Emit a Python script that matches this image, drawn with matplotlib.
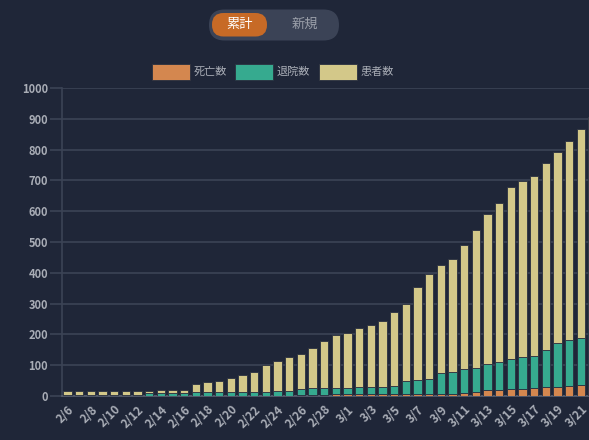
import matplotlib
matplotlib.use('Agg')
import matplotlib.pyplot as plt
from matplotlib.patches import Rectangle, FancyBboxPatch
import numpy as np

plt.rcParams['font.family'] = ['Noto Sans CJK JP', 'DejaVu Sans']

########################### données ##############################
dates = ['2/6', '2/7', '2/8', '2/9', '2/10', '2/11', '2/12', '2/13', '2/14', '2/15',
         '2/16', '2/17', '2/18', '2/19', '2/20', '2/21', '2/22', '2/23', '2/24', '2/25',
         '2/26', '2/27', '2/28', '2/29', '3/1', '3/2', '3/3', '3/4', '3/5', '3/6',
         '3/7', '3/8', '3/9', '3/10', '3/11', '3/12', '3/13', '3/14', '3/15', '3/16',
         '3/17', '3/18', '3/19', '3/20', '3/21', '3/22']

# 死亡数
deaths = [0, 0, 0, 0, 0, 0, 0, 1, 1, 1,
          1, 1, 1, 1, 1, 1, 1, 1, 1, 1,
          2, 3, 4, 5, 5, 6, 6, 6, 6, 6,
          6, 6, 7, 8, 11, 14, 18, 21, 22, 24,
          27, 29, 30, 31, 35, 36]
# 退院数
recovered = [3, 3, 3, 4, 4, 4, 4, 8, 8, 8,
             8, 11, 11, 12, 12, 12, 13, 13, 14, 14,
             20, 23, 22, 22, 22, 22, 24, 24, 25, 43,
             46, 50, 69, 69, 77, 78, 85, 88, 99, 103,
             104, 119, 143, 152, 154, 186]
# 患者数
patients = [13, 13, 13, 12, 12, 12, 12, 8, 12, 12,
            12, 26, 32, 37, 47, 55, 65, 87, 98, 112,
            114, 130, 151, 170, 177, 192, 199, 213, 243, 251,
            301, 339, 349, 367, 402, 448, 487, 518, 558, 572,
            584, 607, 619, 644, 679, 683]

legend_labels = ['死亡数', '退院数', '患者数']
toggle_labels = ['累計', '新規']

########################### couleurs ##############################
bg = '#1f2638'
c_death = '#d4874f'
c_recov = '#36aa8f'
c_pat = '#d3c889'
grid_c = '#3b4456'
txt_c = '#a9adb6'

W, H = 589, 440
fig = plt.figure(figsize=(W / 100, H / 100), dpi=100)
fig.patch.set_facecolor(bg)

# axe : 1 jour = 11.67 px, la barre du 3/22 est coupée par le bord droit
px = 11.67
x0 = -0.47
x1 = 46.0
ax_left = 62
ax_w = (x1 - x0) * px
ax = fig.add_axes([ax_left / W, 1 - 396 / H, ax_w / W, (396 - 88) / H])
ax.set_facecolor(bg)

x = np.arange(len(dates))
deaths = np.array(deaths)
recovered = np.array(recovered)
patients = np.array(patients)
bw = 0.72
edge = '#2a3040'
ax.bar(x, deaths, width=bw, color=c_death, edgecolor=edge, linewidth=0.6, zorder=3)
ax.bar(x, recovered, width=bw, bottom=deaths, color=c_recov, edgecolor=edge, linewidth=0.6, zorder=3)
ax.bar(x, patients, width=bw, bottom=deaths + recovered, color=c_pat, edgecolor=edge, linewidth=0.6, zorder=3)

ax.set_xlim(x0, x1)
ax.set_ylim(0, 1000)
ax.set_yticks(range(0, 1001, 100))
ax.yaxis.grid(True, color=grid_c, linewidth=1.2, zorder=0)
ax.tick_params(axis='y', colors=grid_c, labelcolor=txt_c, length=9, width=1.2, labelsize=8, pad=1)
for lab in ax.get_yticklabels():
    lab.set_fontweight('bold')

ax.set_xticks(x[::2])
ax.set_xticklabels(dates[::2], rotation=45, ha='right', rotation_mode='anchor',
                   fontsize=8.5, color=txt_c, fontweight='bold')
ax.tick_params(axis='x', length=0, pad=5)

for s in ['top', 'right']:
    ax.spines[s].set_visible(False)
ax.spines['left'].set_color(grid_c)
ax.spines['left'].set_linewidth(1.2)
ax.spines['bottom'].set_color('#5a6272')
ax.spines['bottom'].set_linewidth(1.2)

########################### calque en pixels pour légende et bouton ##############################
ov = fig.add_axes([0, 0, 1, 1], facecolor='none')
ov.set_xlim(0, W)
ov.set_ylim(H, 0)
ov.axis('off')

leg_x = [152, 235, 319]
for lx, col, lab in zip(leg_x, [c_death, c_recov, c_pat], legend_labels):
    ov.add_patch(Rectangle((lx, 64), 38, 16, facecolor=col, edgecolor=edge, linewidth=0.6))
    ov.text(lx + 42, 72, lab, color=txt_c, fontsize=8, va='center', ha='left')

# bouton 累計 / 新規
ov.add_patch(FancyBboxPatch((209, 9.5), 130, 31, boxstyle='round,pad=0,rounding_size=15.5',
                            facecolor='#3b4356', edgecolor='none'))
ov.add_patch(FancyBboxPatch((212, 13), 55, 23.5, boxstyle='round,pad=0,rounding_size=11.5',
                            facecolor='#c76a26', edgecolor='none'))
ov.text(240, 24.5, toggle_labels[0], color='white', fontsize=9.5, ha='center', va='center')
ov.text(305, 24.5, toggle_labels[1], color='#9ba0aa', fontsize=9.5, ha='center', va='center')

fig.savefig('out.png', dpi=100, facecolor=bg)
